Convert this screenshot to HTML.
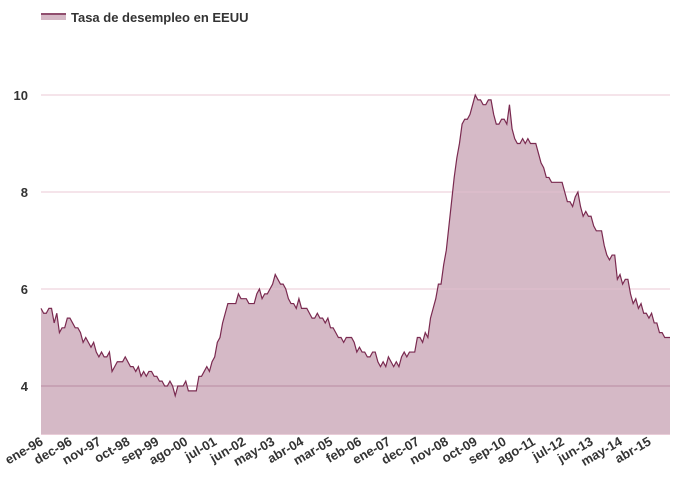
<!DOCTYPE html>
<html><head><meta charset="utf-8"><style>
html,body{margin:0;padding:0;background:#fff;}
svg{display:block;font-family:"Liberation Sans",sans-serif;}
</style></head><body>
<svg id="c" width="680" height="487" viewBox="0 0 680 487">
<rect x="41" y="13" width="25" height="7" fill="#d5b9c6"/>
<line x1="41" y1="14" x2="66" y2="14" stroke="#7a2a50" stroke-width="1.5"/>
<text x="71" y="22" font-size="13" font-weight="bold" fill="#333">Tasa de desempleo en EEUU</text>
</svg>
<script>
var d=[5.6,5.5,5.5,5.6,5.6,5.3,5.5,5.1,5.2,5.2,5.4,5.4,
5.3,5.2,5.2,5.1,4.9,5.0,4.9,4.8,4.9,4.7,4.6,4.7,
4.6,4.6,4.7,4.3,4.4,4.5,4.5,4.5,4.6,4.5,4.4,4.4,
4.3,4.4,4.2,4.3,4.2,4.3,4.3,4.2,4.2,4.1,4.1,4.0,
4.0,4.1,4.0,3.8,4.0,4.0,4.0,4.1,3.9,3.9,3.9,3.9,
4.2,4.2,4.3,4.4,4.3,4.5,4.6,4.9,5.0,5.3,5.5,5.7,
5.7,5.7,5.7,5.9,5.8,5.8,5.8,5.7,5.7,5.7,5.9,6.0,
5.8,5.9,5.9,6.0,6.1,6.3,6.2,6.1,6.1,6.0,5.8,5.7,
5.7,5.6,5.8,5.6,5.6,5.6,5.5,5.4,5.4,5.5,5.4,5.4,
5.3,5.4,5.2,5.2,5.1,5.0,5.0,4.9,5.0,5.0,5.0,4.9,
4.7,4.8,4.7,4.7,4.6,4.6,4.7,4.7,4.5,4.4,4.5,4.4,
4.6,4.5,4.4,4.5,4.4,4.6,4.7,4.6,4.7,4.7,4.7,5.0,
5.0,4.9,5.1,5.0,5.4,5.6,5.8,6.1,6.1,6.5,6.8,7.3,
7.8,8.3,8.7,9.0,9.4,9.5,9.5,9.6,9.8,10.0,9.9,9.9,
9.8,9.8,9.9,9.9,9.6,9.4,9.4,9.5,9.5,9.4,9.8,9.3,
9.1,9.0,9.0,9.1,9.0,9.1,9.0,9.0,9.0,8.8,8.6,8.5,
8.3,8.3,8.2,8.2,8.2,8.2,8.2,8.0,7.8,7.8,7.7,7.9,
8.0,7.7,7.5,7.6,7.5,7.5,7.3,7.2,7.2,7.2,6.9,6.7,
6.6,6.7,6.7,6.2,6.3,6.1,6.2,6.2,5.9,5.7,5.8,5.6,
5.7,5.5,5.5,5.4,5.5,5.3,5.3,5.1,5.1,5.0,5.0,5.0];
var x0=41,x1=670,st=(x1-x0)/(d.length-1);
function Y(v){return 434.5-(v-3)*48.5;}
var s='';
[10,8,6].forEach(function(v){s+='<line x1="41" x2="670" y1="'+Y(v)+'" y2="'+Y(v)+'" stroke="#f0d4de" stroke-width="1"/>';});
var p='';d.forEach(function(v,i){p+=(i?'L':'M')+(x0+i*st).toFixed(2)+','+Y(v).toFixed(2);});
s+='<path d="'+p+'L'+x1+',434.5L'+x0+',434.5Z" fill="#d5b9c6"/>';
[10,8,6,4].forEach(function(v){s+='<line x1="41" x2="670" y1="'+Y(v)+'" y2="'+Y(v)+'" stroke="'+(v==4?'#b98ca2':'#e9c4d2')+'" stroke-width="1" opacity="'+(v==4?1:0.6)+'"/>';
s+='<text x="28" y="'+(Y(v)+5)+'" text-anchor="end" font-size="13" font-weight="bold" fill="#333">'+v+'</text>';});
s+='<path d="'+p+'" fill="none" stroke="#7a2a50" stroke-width="1.2"/>';
s+='<line x1="41" x2="670" y1="434.5" y2="434.5" stroke="#e9cdd8"/>';
var L=['ene-96','dec-96','nov-97','oct-98','sep-99','ago-00','jul-01','jun-02','may-03','abr-04','mar-05','feb-06','ene-07','dec-07','nov-08','oct-09','sep-10','ago-11','jul-12','jun-13','may-14','abr-15'];
L.forEach(function(t,k){var x=x0+k*11*st+3,y=444;s+='<text transform="translate('+x.toFixed(1)+','+y+') rotate(-30)" text-anchor="end" font-size="13" font-weight="bold" fill="#333">'+t+'</text>';});
document.getElementById('c').insertAdjacentHTML('beforeend',s);
</script>
</body></html>
